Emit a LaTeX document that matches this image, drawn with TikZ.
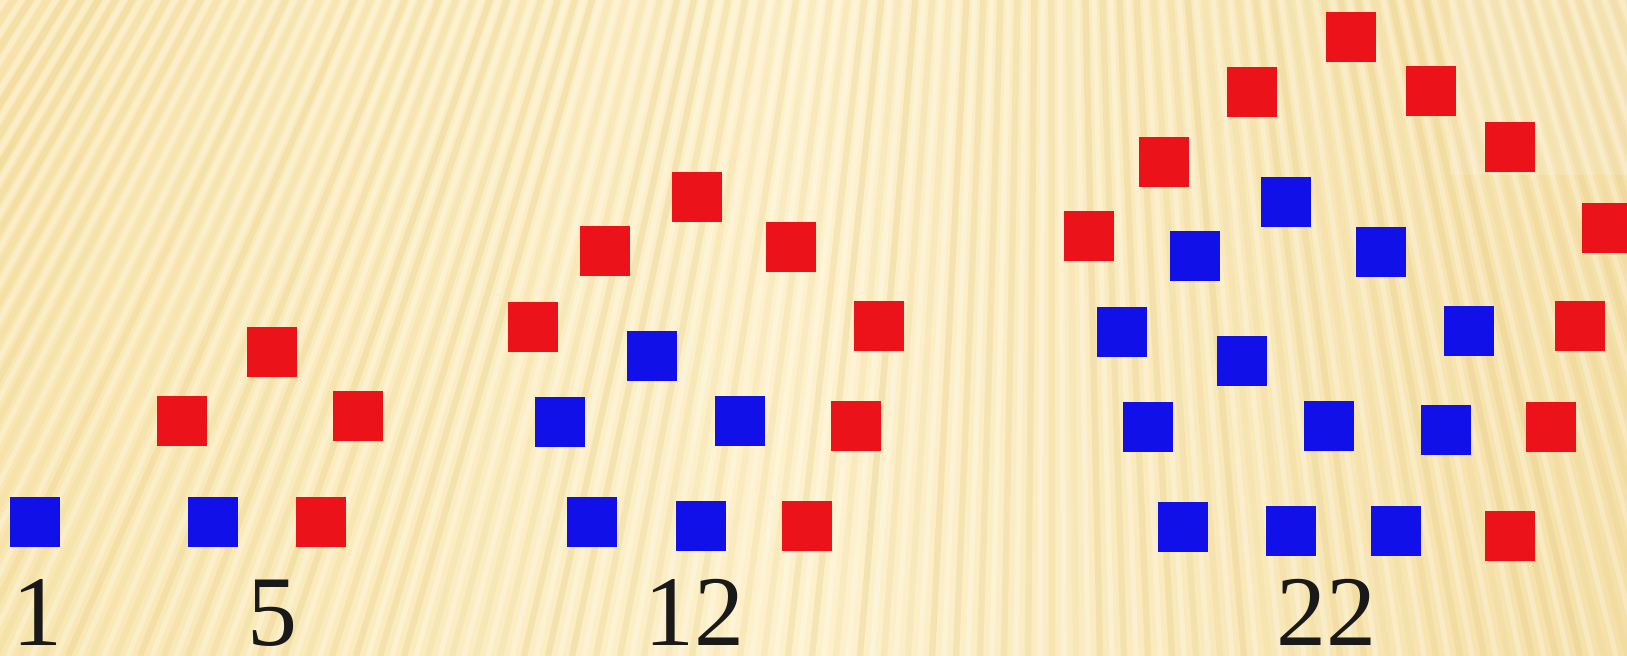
\documentclass[tikz,border=0pt]{standalone}
\usepackage{fontspec}
\setmainfont{Liberation Serif}
\definecolor{sqred}{RGB}{236,18,26}
\definecolor{sqblue}{RGB}{18,16,232}
\definecolor{bgL}{RGB}{249,231,178}
\definecolor{bgM}{RGB}{253,241,204}
\definecolor{bgR}{RGB}{245,224,168}
\definecolor{stripedark}{RGB}{226,196,118}
\tikzset{
  sq/.style={minimum size=25pt, inner sep=0pt, outer sep=0pt, draw=none},
  rsq/.style={sq, fill=sqred},
  bsq/.style={sq, fill=sqblue},
  num/.style={font=\fontsize{50}{60}\selectfont, inner sep=0pt, anchor=base, text=black!90}
}
\begin{document}
\begin{tikzpicture}[x=0.5pt,y=-0.5pt]
\useasboundingbox (0,0) rectangle (1627,656);
% background
\begin{scope}
  \clip (0,0) rectangle (1627,656);
  \shade[left color=bgL, right color=bgR, middle color=bgM] (0,0) rectangle (1627,656);
  \pgfmathsetseed{7}
  \foreach \i in {0,...,100}{
    \pgfmathsetmacro{\xb}{-460+24*\i}
    \pgfmathsetmacro{\op}{0.10+0.18*rnd}
    \pgfmathsetmacro{\xc}{\xb+12}
    \draw[stripedark, line width=3.2pt, opacity=\op] (1050,-1600) -- (\xb,656);
    \draw[white, line width=2.6pt, opacity=0.28] (1050,-1600) -- (\xc,656);
  }
  \fill[white, opacity=0.15] (1450,0) rectangle (1627,175);
\end{scope}
% group 1
\node[bsq] (a1) at (35,522) {};
% group 5
\node[rsq] (b1) at (272,352) {};
\node[rsq] (b2) at (182,421) {};
\node[rsq] (b3) at (358,416) {};
\node[bsq] (b4) at (213,522) {};
\node[rsq] (b5) at (321,522) {};
% group 12
\node[rsq] (c1) at (697,197) {};
\node[rsq] (c2) at (605,251) {};
\node[rsq] (c3) at (791,247) {};
\node[rsq] (c4) at (533,327) {};
\node[rsq] (c5) at (879,326) {};
\node[bsq] (c6) at (652,356) {};
\node[bsq] (c7) at (560,422) {};
\node[bsq] (c8) at (740,421) {};
\node[rsq] (c9) at (856,426) {};
\node[bsq] (c10) at (592,522) {};
\node[bsq] (c11) at (701,526) {};
\node[rsq] (c12) at (807,526) {};
% group 22
\begin{scope}
  \clip (0,0) rectangle (1627,656);
  \node[rsq] (d1) at (1351,37) {};
  \node[rsq] (d2) at (1252,92) {};
  \node[rsq] (d3) at (1431,91) {};
  \node[rsq] (d4) at (1164,162) {};
  \node[rsq] (d5) at (1510,147) {};
  \node[bsq] (d6) at (1286,202) {};
  \node[rsq] (d7) at (1089,236) {};
  \node[bsq] (d8) at (1195,256) {};
  \node[bsq] (d9) at (1381,252) {};
  \node[rsq] (d10) at (1607,228) {};
  \node[bsq] (d11) at (1122,332) {};
  \node[bsq] (d12) at (1242,361) {};
  \node[bsq] (d13) at (1469,331) {};
  \node[rsq] (d14) at (1580,326) {};
  \node[bsq] (d15) at (1148,427) {};
  \node[bsq] (d16) at (1329,426) {};
  \node[bsq] (d17) at (1446,430) {};
  \node[rsq] (d18) at (1551,427) {};
  \node[bsq] (d19) at (1183,527) {};
  \node[bsq] (d20) at (1291,531) {};
  \node[bsq] (d21) at (1396,531) {};
  \node[rsq] (d22) at (1510,536) {};
\end{scope}
% labels
\node[num] (n1) at (37,646) {1};
\node[num] (n5) at (272,646) {5};
\node[num] (n12) at (694,646) {12};
\node[num] (n22) at (1326,646) {22};
\end{tikzpicture}
\end{document}
